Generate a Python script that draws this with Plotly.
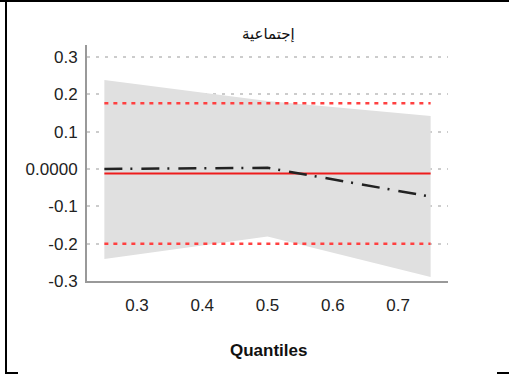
import plotly.graph_objects as go

# Data
quantiles = [0.25, 0.5, 0.75]
qr_coef = [0.0, 0.003, -0.074]
qr_upper = [0.238, 0.182, 0.142]
qr_lower = [-0.241, -0.181, -0.289]
ols_coef = -0.012
ols_upper = 0.176
ols_lower = -0.200
ytick_vals = [0.3, 0.2, 0.1, 0.0, -0.1, -0.2, -0.3]
ytick_text = ["0.3", "0.2", "0.1", "0.0000", "-0.1", "-0.2", "-0.3"]
xtick_vals = [0.3, 0.4, 0.5, 0.6, 0.7]
xtick_text = ["0.3", "0.4", "0.5", "0.6", "0.7"]
title_text = "إجتماعية"
xaxis_title = "Quantiles"

W, H = 509, 374
L, R, T, B = 87, 61, 45, 93
pw = W - L - R
ph = H - T - B

def px(x):
    return (x - L) / pw

def py(y):
    return (H - B - y) / ph

fig = go.Figure()
fig.add_trace(go.Scatter(x=quantiles, y=qr_lower, mode="lines",
                         line=dict(width=0, color="#e0e0e0"), showlegend=False, hoverinfo="skip"))
fig.add_trace(go.Scatter(x=quantiles, y=qr_upper, mode="lines", fill="tonexty",
                         fillcolor="#e0e0e0", line=dict(width=0, color="#e0e0e0"),
                         showlegend=False, hoverinfo="skip"))
xs = [quantiles[0], quantiles[-1]]
fig.add_trace(go.Scatter(x=xs, y=[ols_upper] * 2, mode="lines",
                         line=dict(color="#ff4040", width=2.5, dash="4px,5px"), showlegend=False))
fig.add_trace(go.Scatter(x=xs, y=[ols_lower] * 2, mode="lines",
                         line=dict(color="#ff4040", width=2.5, dash="4px,5px"), showlegend=False))
fig.add_trace(go.Scatter(x=xs, y=[ols_coef] * 2, mode="lines",
                         line=dict(color="#ee1c1c", width=2), showlegend=False))
fig.add_trace(go.Scatter(x=quantiles, y=qr_coef, mode="lines",
                         line=dict(color="#222222", width=2.5, dash="18px,8px,2px,9px"),
                         showlegend=False))

tickfont = dict(family="Liberation Sans, Arial", size=17, color="#222")
fig.update_layout(
    width=W, height=H,
    margin=dict(l=L, r=R, t=T, b=B),
    paper_bgcolor="white", plot_bgcolor="white",
    xaxis=dict(range=[0.2234, 0.7766], tickvals=xtick_vals, ticktext=xtick_text,
               showgrid=False, zeroline=False, showline=True, linecolor="#999999", linewidth=2,
               ticks="outside", ticklen=8, tickcolor="rgba(0,0,0,0)", tickfont=tickfont),
    yaxis=dict(range=[-0.3, 0.332], tickvals=ytick_vals, ticktext=ytick_text,
               showgrid=True, gridcolor="#cccccc", gridwidth=2, griddash="3px,6px",
               zeroline=False, showline=True, linecolor="#999999", linewidth=2,
               ticks="outside", ticklen=4, tickcolor="rgba(0,0,0,0)", tickfont=tickfont),
)

fig.add_annotation(text=title_text, xref="paper", yref="paper", x=px(268), y=py(34),
                   showarrow=False, xanchor="center", yanchor="middle",
                   font=dict(family="DejaVu Sans", size=15, color="#111"))
fig.add_annotation(text="<b>" + xaxis_title + "</b>", xref="paper", yref="paper",
                   x=px(268), y=py(350), showarrow=False, xanchor="center", yanchor="middle",
                   font=dict(family="Liberation Sans", size=17, color="#111"))

# frame pieces drawn as thin filled rectangles
def bar(x0, x1, y0, y1, c="black"):
    fig.add_shape(type="rect", xref="paper", yref="paper", layer="above",
                  x0=px(x0), x1=px(x1), y0=py(y0), y1=py(y1),
                  fillcolor=c, line=dict(width=0))

bar(470, 509, 2, 372, "white")  # keep right margin clean
bar(0, 509, 0, 2)        # top
bar(5, 7, 0, 374)        # left
bar(5, 18, 372, 374)     # bottom-left
bar(497, 509, 372, 374)  # bottom-right

fig.write_html("out.html", config={"displayModeBar": False, "staticPlot": True})
